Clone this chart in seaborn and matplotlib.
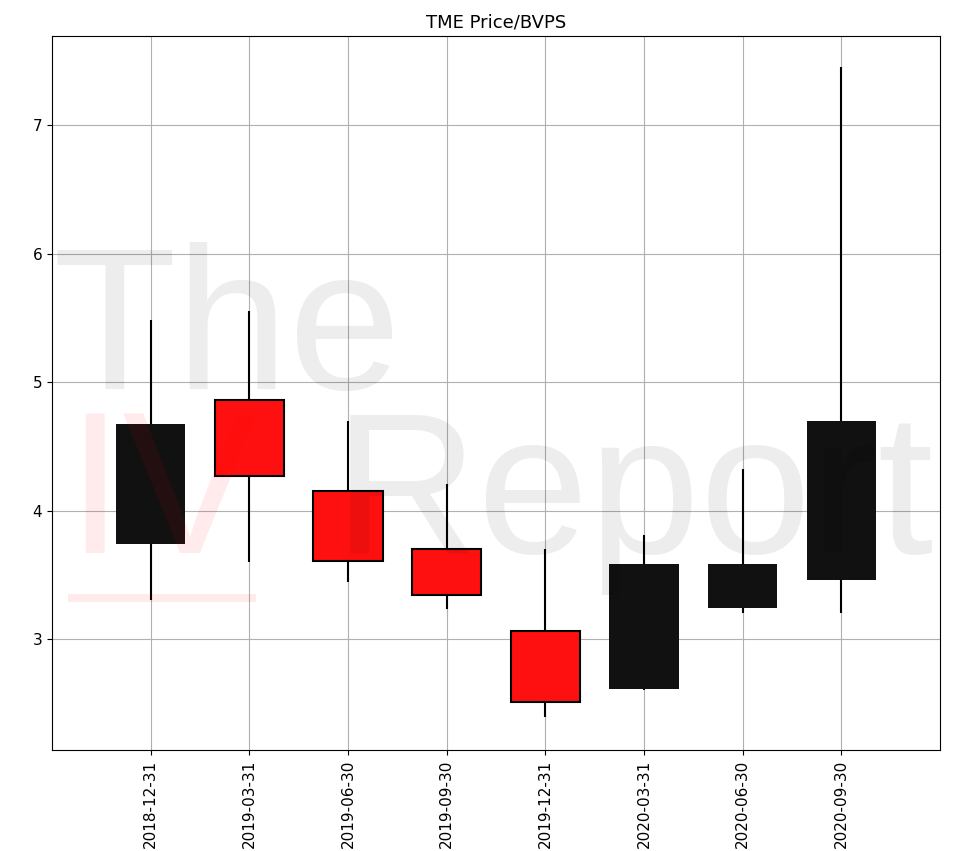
import matplotlib
matplotlib.use("Agg")
import matplotlib.pyplot as plt
from matplotlib.patches import Rectangle
import seaborn as sns
import pandas as pd
import numpy as np

dates = ["2018-12-31", "2019-03-31", "2019-06-30", "2019-09-30",
         "2019-12-31", "2020-03-31", "2020-06-30", "2020-09-30"]
opens = [3.74, 4.86, 4.15, 3.70, 3.06, 2.61, 3.24, 3.46]
closes = [4.67, 4.27, 3.61, 3.34, 2.51, 3.58, 3.58, 4.70]
highs = [5.48, 5.55, 4.70, 4.21, 3.70, 3.81, 4.32, 7.45]
lows = [3.30, 3.60, 3.44, 3.23, 2.39, 2.60, 3.20, 3.20]
title = "TME Price/BVPS"

df = pd.DataFrame(dict(date=dates, open=opens, close=closes, high=highs, low=lows))
df["bottom"] = df[["open", "close"]].min(axis=1)
df["height"] = (df["close"] - df["open"]).abs()
df["up"] = df["close"] >= df["open"]

W, H = 978, 851
fig = plt.figure(figsize=(W / 100, H / 100), dpi=100)
ax = fig.add_axes([52 / W, 1 - 750 / H, 888 / W, 714 / H])

pos = np.arange(len(dates))
ax.vlines(pos, df["low"], df["high"], color="black", lw=1.5, zorder=2)

up = df[df["up"]]
dn = df[~df["up"]]
sns.barplot(data=up, x="date", y="height", order=dates, bottom=up["bottom"].values,
            width=0.7, color="#111111", saturation=1, linewidth=0,
            errorbar=None, ax=ax, zorder=3)
sns.barplot(data=dn, x="date", y="height", order=dates, bottom=dn["bottom"].values,
            width=0.7, color="#ff1010", saturation=1, edgecolor="black",
            linewidth=1.5, errorbar=None, ax=ax, zorder=3)

ax.set_xlim(-1, 8)
ax.set_ylim(2.136, 7.693)
ax.set_yticks([3, 4, 5, 6, 7])
ax.set_xticks(pos)
ax.set_xticklabels(dates, rotation=90)
ax.tick_params(labelsize=11)
ax.grid(True, color="#b0b0b0", lw=0.8)
ax.set_axisbelow(True)
ax.set_xlabel("")
ax.set_ylabel("")
ax.set_title(title, fontsize=13)

# watermark
wm_font = "Liberation Sans"
fig.text(53 / W, 1 - 389 / H, "The", fontsize=146, family=wm_font,
         color=(0, 0, 0, 0.07), va="baseline", ha="left", zorder=10)
fig.text(66 / W, 1 - 553 / H, "IV", fontsize=146, family=wm_font,
         color=(1, 0, 0, 0.08), va="baseline", ha="left", zorder=10)
fig.text(334 / W, 1 - 553 / H, "Report", fontsize=144, family=wm_font,
         color=(0, 0, 0, 0.07), va="baseline", ha="left", zorder=10)
fig.add_artist(Rectangle((68 / W, 1 - 602 / H), 188 / W, 8 / H,
                         transform=fig.transFigure, color=(1, 0, 0, 0.08),
                         lw=0, zorder=10))

fig.savefig("out.png", dpi=100)
